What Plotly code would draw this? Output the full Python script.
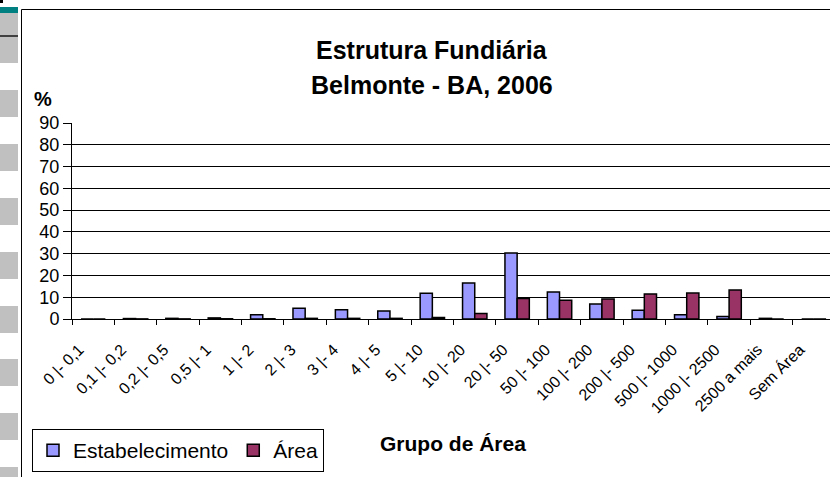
import plotly.graph_objects as go

categories = ["0 |- 0,1", "0,1 |- 0,2", "0,2 |- 0,5", "0,5 |- 1", "1 |- 2", "2 |- 3",
              "3 |- 4", "4 |- 5", "5 |- 10", "10 |- 20", "20 |- 50", "50 |- 100",
              "100 |- 200", "200 |- 500", "500 |- 1000", "1000 |- 2500",
              "2500 a mais", "Sem Área"]
estabelecimento = [0, 0.2, 0.3, 0.5, 2.0, 4.9, 4.3, 3.7, 11.8, 16.5, 30.3, 12.4,
                   6.9, 4.0, 2.0, 1.1, 0.3, 0]
area = [0, 0.05, 0.05, 0.1, 0.1, 0.3, 0.3, 0.3, 0.7, 2.5, 9.4, 8.6,
        9.2, 11.5, 11.9, 13.3, 0, 0]
y_ticks = [0, 10, 20, 30, 40, 50, 60, 70, 80, 90]

W, H = 830, 477
L, R, T, B = 72, 0, 123, 158
PW, PH = W - L - R, H - T - B
FONT = "Liberation Sans, Arial"

def px_x(x):
    return (x - L) / PW

def px_y(y):
    return (H - B - y) / PH

fig = go.Figure()
fig.add_trace(go.Bar(name="Estabelecimento", x=categories, y=estabelecimento,
                     marker=dict(color="#9999FF", line=dict(color="black", width=1.5))))
fig.add_trace(go.Bar(name="Área", x=categories, y=area,
                     marker=dict(color="#993366", line=dict(color="black", width=1.5))))

shapes = []
# spreadsheet row-header strip on the left
gray_rows = [(13, 35), (37, 63), (90, 117), (144, 171), (198, 225), (252, 279),
             (306, 333), (359, 386), (413, 440), (467, 478)]
for y0, y1 in gray_rows:
    shapes.append(dict(type="rect", xref="paper", yref="paper",
                       x0=px_x(0), x1=px_x(18), y0=px_y(y1), y1=px_y(y0),
                       fillcolor="#C0C0C0", line=dict(width=0), layer="below"))
shapes.append(dict(type="rect", xref="paper", yref="paper",
                   x0=px_x(0), x1=px_x(18), y0=px_y(13), y1=px_y(7),
                   fillcolor="#008080", line=dict(width=0)))
shapes.append(dict(type="line", xref="paper", yref="paper",
                   x0=px_x(0), x1=px_x(18), y0=px_y(36), y1=px_y(36),
                   line=dict(color="black", width=1.5)))
shapes.append(dict(type="rect", xref="paper", yref="paper",
                   x0=px_x(0), x1=px_x(3), y0=px_y(3), y1=px_y(0),
                   fillcolor="black", line=dict(width=0)))
# chart border
shapes.append(dict(type="line", xref="paper", yref="paper",
                   x0=px_x(21.5), x1=px_x(21.5), y0=px_y(478), y1=px_y(9.5),
                   line=dict(color="black", width=1)))
shapes.append(dict(type="line", xref="paper", yref="paper",
                   x0=px_x(21.5), x1=px_x(831), y0=px_y(9.5), y1=px_y(9.5),
                   line=dict(color="black", width=1)))

annotations = [
    dict(text="<b>Estrutura Fundiária</b>", xref="paper", yref="paper",
         x=px_x(432), y=px_y(50), showarrow=False, xanchor="center", yanchor="middle",
         font=dict(size=25, color="black", family=FONT)),
    dict(text="<b>Belmonte - BA, 2006</b>", xref="paper", yref="paper",
         x=px_x(432), y=px_y(85), showarrow=False, xanchor="center", yanchor="middle",
         font=dict(size=25, color="black", family=FONT)),
    dict(text="<b>%</b>", xref="paper", yref="paper",
         x=px_x(43), y=px_y(99), showarrow=False, xanchor="center", yanchor="middle",
         font=dict(size=20, color="black", family=FONT)),
    dict(text="<b>Grupo de Área</b>", xref="paper", yref="paper",
         x=px_x(453), y=px_y(443), showarrow=False, xanchor="center", yanchor="middle",
         font=dict(size=21, color="black", family=FONT)),
]

fig.update_layout(
    width=W, height=H,
    margin=dict(l=L, r=R, t=T, b=B, pad=0, autoexpand=False),
    paper_bgcolor="white", plot_bgcolor="white",
    font=dict(family=FONT, color="black"),
    barmode="group", bargap=0.425, bargroupgap=0,
    showlegend=True,
    legend=dict(orientation="h", x=px_x(32), y=px_y(429), xanchor="left", yanchor="top",
                bordercolor="black", borderwidth=1, bgcolor="white",
                font=dict(size=21, color="black"), traceorder="normal"),
    shapes=shapes, annotations=annotations,
)
fig.update_xaxes(type="category", range=[-0.5, 17.38], tickson="boundaries",
                 ticks="outside", ticklen=5, tickcolor="black", tickwidth=1,
                 showline=True, linecolor="black", linewidth=1, showgrid=False,
                 tickangle=-45, tickfont=dict(size=16, color="black"),
                 ticklabelstandoff=14, ticklabelshift=-14)
fig.update_yaxes(range=[0, 90], tickvals=y_ticks, ticks="outside", ticklen=8,
                 tickcolor="black", tickwidth=1, showline=True, linecolor="black",
                 linewidth=1, showgrid=True, gridcolor="black", gridwidth=1,
                 zeroline=False, tickfont=dict(size=18, color="black"))

fig.write_html("out.html", config={"displayModeBar": False},
               post_script="document.body.style.margin='0';document.body.style.overflow='hidden';")
